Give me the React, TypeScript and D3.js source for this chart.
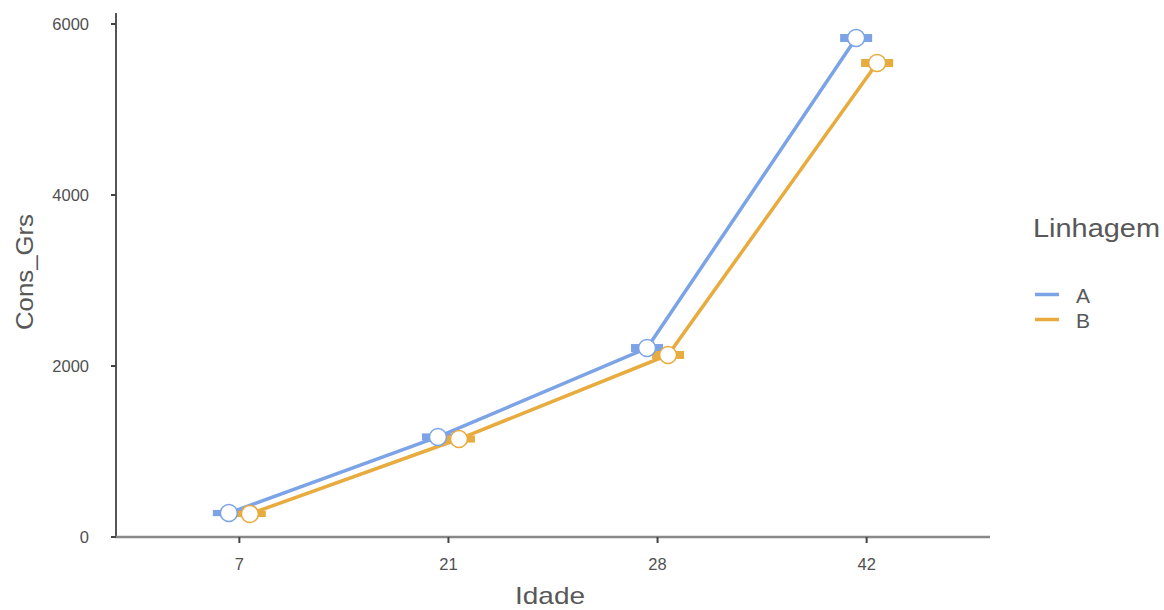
import React from "react";
import * as d3 from "d3";

const ages = ["7", "21", "28", "42"];
const seriesNames = ["A", "B"];
const valuesA = [280, 1170, 2210, 5836];
const valuesB = [270, 1146, 2129, 5544];
const seA = [25, 30, 35, 35];
const seB = [25, 30, 35, 35];
const yTicks = [0, 2000, 4000, 6000];
const colors = ["#7ba3e6", "#e8ab3e"];

export default function App() {
  const W = 1164, H = 610;
  const left = 116, right = 990, top = 13, bottom = 537;
  const x = d3.scalePoint().domain(ages).range([left, right]).padding(0.59);
  const yS = d3.scaleLinear().domain([0, 6000]).range([bottom, 24]);
  const dodge = 10.5;
  const series = [
    { name: seriesNames[0], vals: valuesA, se: seA, off: -dodge, color: colors[0] },
    { name: seriesNames[1], vals: valuesB, se: seB, off: dodge, color: colors[1] },
  ];
  const line = d3.line<[number, number]>().x(d => d[0]).y(d => d[1]);
  const tickColor = "#505050";
  const titleColor = "#585858";
  const font = "Liberation Sans, Arial, sans-serif";
  return (
    <svg width={W} height={H} style={{ position: "absolute", left: 0, top: 0, background: "#fff" }}>
      {/* axes */}
      <line x1={left} x2={left} y1={top} y2={bottom + 1} stroke="#555" strokeWidth={2} />
      <line x1={left - 1} x2={right} y1={bottom} y2={bottom} stroke="#888" strokeWidth={2.5} />
      {yTicks.map(t => (
        <g key={t}>
          <line x1={left - 5} x2={left} y1={yS(t)} y2={yS(t)} stroke="#444" strokeWidth={2} />
          <text x={left - 27} y={yS(t)} dy="0.35em" textAnchor="end" fontSize={16.5} fill={tickColor} fontFamily={font}>{t}</text>
        </g>
      ))}
      {ages.map(a => (
        <g key={a}>
          <line x1={x(a)} x2={x(a)} y1={bottom} y2={bottom + 6} stroke="#444" strokeWidth={2} />
          <text x={x(a)} y={570} textAnchor="middle" fontSize={16.5} fill={tickColor} fontFamily={font}>{a}</text>
        </g>
      ))}
      <text x={550} y={604} textAnchor="middle" fontSize={24} fill={titleColor} fontFamily={font} textLength={70} lengthAdjust="spacingAndGlyphs">Idade</text>
      <text transform={`translate(33,${272}) rotate(-90)`} textAnchor="middle" fontSize={24} fill={titleColor} fontFamily={font} textLength={116} lengthAdjust="spacingAndGlyphs">Cons_Grs</text>
      {/* lines */}
      {series.map(s => (
        <path key={s.name} d={line(ages.map((a, i) => [(x(a) as number) + s.off, yS(s.vals[i])]))!} fill="none" stroke={s.color} strokeWidth={3.5} />
      ))}
      {/* error bars */}
      {series.map(s => ages.map((a, i) => {
        const cx = (x(a) as number) + s.off;
        const y1 = yS(s.vals[i] - s.se[i]), y2 = yS(s.vals[i] + s.se[i]);
        return (
          <rect key={s.name + a} x={cx - 16} y={y2 - 1} width={32} height={y1 - y2 + 2} fill={s.color} />
        );
      }))}
      {/* points */}
      {series.map(s => ages.map((a, i) => (
        <circle key={s.name + a} cx={(x(a) as number) + s.off} cy={yS(s.vals[i])} r={8.5} fill="#fff" stroke={s.color} strokeWidth={1.5} />
      )))}
      {/* legend */}
      <text x={1033} y={237} fontSize={25} fill={titleColor} fontFamily={font} textLength={127} lengthAdjust="spacingAndGlyphs">Linhagem</text>
      {series.map((s, i) => (
        <g key={s.name}>
          <line x1={1035} x2={1059} y1={294.5 + i * 25} y2={294.5 + i * 25} stroke={s.color} strokeWidth={3.5} />
          <text x={1076} y={303 + i * 25} fontSize={21} fill={titleColor} fontFamily={font}>{s.name}</text>
        </g>
      ))}
    </svg>
  );
}
